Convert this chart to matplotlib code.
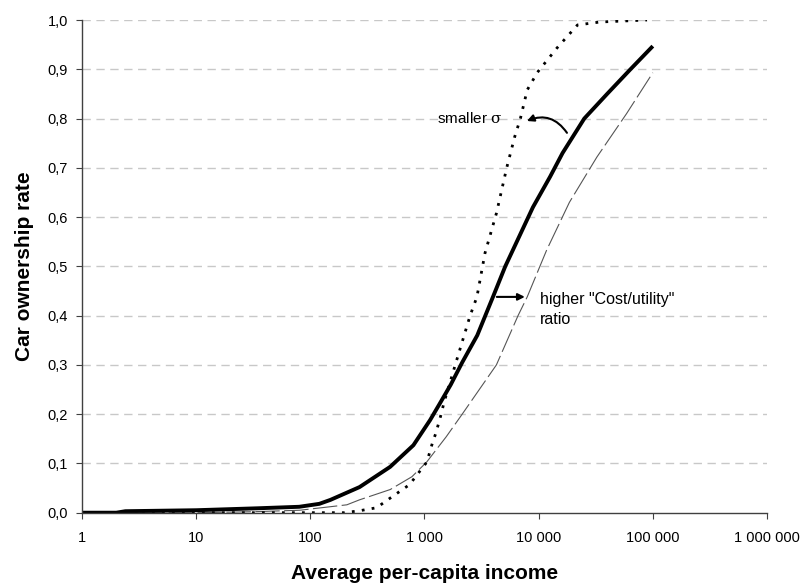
import numpy as np
import matplotlib.pyplot as plt

plt.rcParams['font.family'] = ['Liberation Sans', 'DejaVu Sans']
plt.rcParams['mathtext.fontset'] = 'dejavuserif'

# base curve (thick solid)
inc_base = [1, 2, 2.4, 10, 35, 80, 120, 150, 270, 500, 800, 1120, 1350, 1700,
            2140, 2900, 3980, 5100, 8910, 12600, 16200, 25100, 39800,
            63100, 100000]
own_base = [0, 0, 0.003, 0.005, 0.009, 0.012, 0.018, 0.026, 0.052, 0.093,
            0.137, 0.188, 0.22, 0.26, 0.305, 0.36, 0.438, 0.50, 0.62,
            0.682, 0.73, 0.80, 0.85, 0.899, 0.947]

# smaller sigma (dotted)
inc_sigma = [1, 200, 270, 380, 525, 740, 1050, 1175, 1260, 1400, 1480, 1860,
             2510, 2880, 3390, 4270, 5250, 6170, 6920, 7940, 9770, 14450,
             21900, 34700, 89000]
own_sigma = [0, 0, 0.004, 0.01, 0.033, 0.057, 0.103, 0.142, 0.162, 0.20,
             0.223, 0.30, 0.40, 0.438, 0.527, 0.608, 0.70, 0.763, 0.80, 0.858,
             0.894, 0.943, 0.99, 0.996, 1.0]

# higher cost/utility ratio (thin long dash)
inc_cost = [1, 10, 32, 81, 209, 269, 501, 776, 1047, 1549, 2140, 4266, 6600,
            7940, 11750, 18600, 32400, 58900, 100000]
own_cost = [0, 0, 0.002, 0.005, 0.016, 0.026, 0.047, 0.073, 0.103, 0.154,
            0.20, 0.30, 0.40, 0.438, 0.533, 0.63, 0.722, 0.81, 0.893]

x_ticks = [1, 10, 100, 1000, 10000, 100000, 1000000]
x_labels = ['1', '10', '100', '1 000', '10 000', '100 000', '1 000 000']
y_ticks = np.round(np.arange(0, 1.01, 0.1), 1)

fig = plt.figure(figsize=(8.06, 5.85), dpi=100)
ax = fig.add_axes([0.1017, 0.1236, 0.8499, 0.8422])

ax.plot(inc_cost, own_cost, color='#555555', lw=0.8, dashes=(22, 4))
ax.plot(inc_sigma, own_sigma, color='black', lw=2, dashes=(1, 2.6))
ax.plot(inc_base, own_base, color='black', lw=2.8, solid_capstyle='butt')

ax.set_xscale('log')
ax.set_xlim(1, 1e6)
ax.set_ylim(0, 1.0)
ax.set_xticks(x_ticks)
ax.set_xticklabels(x_labels)
ax.minorticks_off()
ax.set_yticks(y_ticks)
ax.set_yticklabels([f'{v:.1f}'.replace('.', ',') for v in y_ticks])

for v in y_ticks[1:]:
    ax.plot([1, 1e6], [v, v], color='#c8c8c8', lw=1, dashes=(6, 4), zorder=0)

for s in ['top', 'right']:
    ax.spines[s].set_visible(False)
for s in ['left', 'bottom']:
    ax.spines[s].set_color('#404040')
    ax.spines[s].set_linewidth(1)

ax.tick_params(axis='x', length=4, color='#404040', labelsize=10.5, pad=9)
ax.tick_params(axis='y', length=4, color='#404040', labelsize=10.5, pad=6)

ax.set_xlabel('Average per-capita income', fontsize=15, fontweight='bold', labelpad=14)
ax.set_ylabel('Car ownership rate', fontsize=15, fontweight='bold', labelpad=10)

# annotations
ax.text(4850, 0.8, 'smaller $\\mathrm{\\sigma}$', ha='right', va='center', fontsize=11)
ax.annotate('', xy=(7890, 0.795), xytext=(17700, 0.771),
            arrowprops=dict(arrowstyle='-|>', color='black', lw=1.5,
                            connectionstyle='arc3,rad=0.4', mutation_scale=10,
                            shrinkA=0, shrinkB=0))
ax.annotate('', xy=(7570, 0.438), xytext=(4300, 0.438),
            arrowprops=dict(arrowstyle='-|>', color='black', lw=1.5,
                            mutation_scale=10, shrinkA=0, shrinkB=0))
ax.text(10240, 0.412, 'higher "Cost/utility"\nratio', ha='left', va='center',
        fontsize=11.5, linespacing=1.4)

plt.savefig('out.png', dpi=100)
